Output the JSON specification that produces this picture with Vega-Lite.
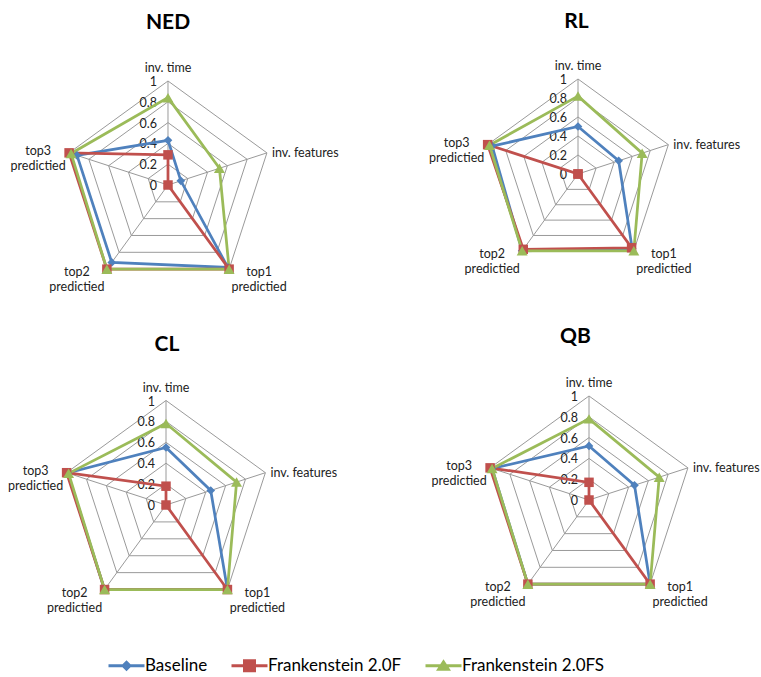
{
  "$schema": "https://vega.github.io/schema/vega-lite/v6.json",
  "background": "white",
  "padding": {"top": 11, "left": 0, "right": 0, "bottom": 0},
  "config": {"view": {"stroke": null}, "font": "Lato"},
  "datasets": {
    "grid": [
      {"level": 0.2, "axis": ["inv. time", "inv. features", "top1 predictied", "top2 predictied", "top3 predictied"]},
      {"level": 0.4, "axis": ["inv. time", "inv. features", "top1 predictied", "top2 predictied", "top3 predictied"]},
      {"level": 0.6, "axis": ["inv. time", "inv. features", "top1 predictied", "top2 predictied", "top3 predictied"]},
      {"level": 0.8, "axis": ["inv. time", "inv. features", "top1 predictied", "top2 predictied", "top3 predictied"]},
      {"level": 1.0, "axis": ["inv. time", "inv. features", "top1 predictied", "top2 predictied", "top3 predictied"]}
    ],
    "axes": [
      {"axis": "inv. time", "label": "inv. time"},
      {"axis": "inv. features", "label": "inv. features"},
      {"axis": "top1 predictied", "label": "top1\npredictied"},
      {"axis": "top2 predictied", "label": "top2\npredictied"},
      {"axis": "top3 predictied", "label": "top3\npredictied"}
    ],
    "ticks": [{"tick": 0}, {"tick": 0.2}, {"tick": 0.4}, {"tick": 0.6}, {"tick": 0.8}, {"tick": 1}],
    "scores": [
      {"panel": "NED", "method": "Baseline", "axis": "inv. time", "value": 0.43},
      {"panel": "NED", "method": "Baseline", "axis": "inv. features", "value": 0.13},
      {"panel": "NED", "method": "Baseline", "axis": "top1 predictied", "value": 0.98},
      {"panel": "NED", "method": "Baseline", "axis": "top2 predictied", "value": 0.92},
      {"panel": "NED", "method": "Baseline", "axis": "top3 predictied", "value": 0.92},
      {"panel": "NED", "method": "Frankenstein 2.0F", "axis": "inv. time", "value": 0.29},
      {"panel": "NED", "method": "Frankenstein 2.0F", "axis": "inv. features", "value": 0},
      {"panel": "NED", "method": "Frankenstein 2.0F", "axis": "top1 predictied", "value": 1},
      {"panel": "NED", "method": "Frankenstein 2.0F", "axis": "top2 predictied", "value": 1},
      {"panel": "NED", "method": "Frankenstein 2.0F", "axis": "top3 predictied", "value": 1},
      {"panel": "NED", "method": "Frankenstein 2.0FS", "axis": "inv. time", "value": 0.84},
      {"panel": "NED", "method": "Frankenstein 2.0FS", "axis": "inv. features", "value": 0.52},
      {"panel": "NED", "method": "Frankenstein 2.0FS", "axis": "top1 predictied", "value": 1},
      {"panel": "NED", "method": "Frankenstein 2.0FS", "axis": "top2 predictied", "value": 1},
      {"panel": "NED", "method": "Frankenstein 2.0FS", "axis": "top3 predictied", "value": 0.98},
      {"panel": "RL", "method": "Baseline", "axis": "inv. time", "value": 0.5},
      {"panel": "RL", "method": "Baseline", "axis": "inv. features", "value": 0.45},
      {"panel": "RL", "method": "Baseline", "axis": "top1 predictied", "value": 0.97},
      {"panel": "RL", "method": "Baseline", "axis": "top2 predictied", "value": 1},
      {"panel": "RL", "method": "Baseline", "axis": "top3 predictied", "value": 0.95},
      {"panel": "RL", "method": "Frankenstein 2.0F", "axis": "inv. time", "value": 0},
      {"panel": "RL", "method": "Frankenstein 2.0F", "axis": "inv. features", "value": 0},
      {"panel": "RL", "method": "Frankenstein 2.0F", "axis": "top1 predictied", "value": 0.96},
      {"panel": "RL", "method": "Frankenstein 2.0F", "axis": "top2 predictied", "value": 0.98},
      {"panel": "RL", "method": "Frankenstein 2.0F", "axis": "top3 predictied", "value": 1},
      {"panel": "RL", "method": "Frankenstein 2.0FS", "axis": "inv. time", "value": 0.82},
      {"panel": "RL", "method": "Frankenstein 2.0FS", "axis": "inv. features", "value": 0.71},
      {"panel": "RL", "method": "Frankenstein 2.0FS", "axis": "top1 predictied", "value": 1},
      {"panel": "RL", "method": "Frankenstein 2.0FS", "axis": "top2 predictied", "value": 1},
      {"panel": "RL", "method": "Frankenstein 2.0FS", "axis": "top3 predictied", "value": 0.98},
      {"panel": "CL", "method": "Baseline", "axis": "inv. time", "value": 0.55},
      {"panel": "CL", "method": "Baseline", "axis": "inv. features", "value": 0.45},
      {"panel": "CL", "method": "Baseline", "axis": "top1 predictied", "value": 1},
      {"panel": "CL", "method": "Baseline", "axis": "top2 predictied", "value": 1},
      {"panel": "CL", "method": "Baseline", "axis": "top3 predictied", "value": 0.99},
      {"panel": "CL", "method": "Frankenstein 2.0F", "axis": "inv. time", "value": 0.18},
      {"panel": "CL", "method": "Frankenstein 2.0F", "axis": "inv. features", "value": 0},
      {"panel": "CL", "method": "Frankenstein 2.0F", "axis": "top1 predictied", "value": 1},
      {"panel": "CL", "method": "Frankenstein 2.0F", "axis": "top2 predictied", "value": 1},
      {"panel": "CL", "method": "Frankenstein 2.0F", "axis": "top3 predictied", "value": 1},
      {"panel": "CL", "method": "Frankenstein 2.0FS", "axis": "inv. time", "value": 0.78},
      {"panel": "CL", "method": "Frankenstein 2.0FS", "axis": "inv. features", "value": 0.71},
      {"panel": "CL", "method": "Frankenstein 2.0FS", "axis": "top1 predictied", "value": 1},
      {"panel": "CL", "method": "Frankenstein 2.0FS", "axis": "top2 predictied", "value": 1},
      {"panel": "CL", "method": "Frankenstein 2.0FS", "axis": "top3 predictied", "value": 0.98},
      {"panel": "QB", "method": "Baseline", "axis": "inv. time", "value": 0.52},
      {"panel": "QB", "method": "Baseline", "axis": "inv. features", "value": 0.46},
      {"panel": "QB", "method": "Baseline", "axis": "top1 predictied", "value": 1},
      {"panel": "QB", "method": "Baseline", "axis": "top2 predictied", "value": 1},
      {"panel": "QB", "method": "Baseline", "axis": "top3 predictied", "value": 0.98},
      {"panel": "QB", "method": "Frankenstein 2.0F", "axis": "inv. time", "value": 0.17},
      {"panel": "QB", "method": "Frankenstein 2.0F", "axis": "inv. features", "value": 0},
      {"panel": "QB", "method": "Frankenstein 2.0F", "axis": "top1 predictied", "value": 1},
      {"panel": "QB", "method": "Frankenstein 2.0F", "axis": "top2 predictied", "value": 1},
      {"panel": "QB", "method": "Frankenstein 2.0F", "axis": "top3 predictied", "value": 1},
      {"panel": "QB", "method": "Frankenstein 2.0FS", "axis": "inv. time", "value": 0.78},
      {"panel": "QB", "method": "Frankenstein 2.0FS", "axis": "inv. features", "value": 0.71},
      {"panel": "QB", "method": "Frankenstein 2.0FS", "axis": "top1 predictied", "value": 1},
      {"panel": "QB", "method": "Frankenstein 2.0FS", "axis": "top2 predictied", "value": 1},
      {"panel": "QB", "method": "Frankenstein 2.0FS", "axis": "top3 predictied", "value": 0.98}
    ]
  },
  "bounds": "flush",
  "columns": 2,
  "spacing": {"row": 40, "column": 0},
  "resolve": {
    "scale": {"x": "independent", "y": "independent", "color": "shared", "fill": "shared", "shape": "shared"},
    "legend": {"color": "shared", "fill": "shared", "shape": "shared"}
  },
  "concat": [
    {
      "width": 380, "height": 280,
      "title": {"text": "NED", "font": "Lato", "fontSize": 21, "fontWeight": "bold", "color": "#000", "dx": -22, "offset": 8},
      "encoding": {
        "x": {"field": "x", "type": "quantitative", "scale": {"domain": [-1.6154, 2.0385], "nice": false, "zero": false}, "axis": null},
        "y": {"field": "y", "type": "quantitative", "scale": {"domain": [-1.3077, 1.3846], "nice": false, "zero": false}, "axis": null}
      },
      "layer": [
        {"data": {"name": "grid"},
         "transform": [{"flatten": ["axis"]}, {"calculate": "indexof(['inv. time','inv. features','top1 predictied','top2 predictied','top3 predictied'], datum.axis)", "as": "k"}, {"calculate": "datum.level*sin(datum.k*2*PI/5)", "as": "x"}, {"calculate": "datum.level*cos(datum.k*2*PI/5)", "as": "y"}],
         "mark": {"type": "line", "interpolate": "linear-closed", "stroke": "#9a9a9a", "strokeWidth": 1},
         "encoding": {"detail": {"field": "level", "type": "nominal"}, "order": {"field": "k", "type": "quantitative"}}},
        {"data": {"name": "axes"},
         "transform": [{"calculate": "indexof(['inv. time','inv. features','top1 predictied','top2 predictied','top3 predictied'], datum.axis)", "as": "k"}, {"calculate": "sin(datum.k*2*PI/5)", "as": "x"}, {"calculate": "cos(datum.k*2*PI/5)", "as": "y"}],
         "mark": {"type": "rule", "stroke": "#9a9a9a", "strokeWidth": 1},
         "encoding": {"x2": {"datum": 0}, "y2": {"datum": 0}}},
        {"data": {"name": "axes"},
         "transform": [{"calculate": "indexof(['inv. time','inv. features','top1 predictied','top2 predictied','top3 predictied'], datum.axis)", "as": "k"}, {"calculate": "sin(datum.k*2*PI/5)", "as": "x"}, {"calculate": "cos(datum.k*2*PI/5)", "as": "y"}],
         "mark": {"type": "text", "font": "Lato", "fontSize": 12.5, "color": "#222", "lineBreak": "\n", "lineHeight": 15, "baseline": "middle",
                  "align": {"expr": "datum.k === 1 ? 'left' : 'center'"},
                  "dx": {"expr": "[0, 5, 30, -30, -31][datum.k]"},
                  "dy": {"expr": "[-13, 0, 3, 3, -2][datum.k]"}},
         "encoding": {"text": {"field": "label", "type": "nominal"}}},
        {"data": {"name": "ticks"},
         "transform": [{"calculate": "0", "as": "x"}, {"calculate": "datum.tick", "as": "y"}],
         "mark": {"type": "text", "font": "Lato", "fontSize": 12.5, "color": "#222", "align": "right", "baseline": "middle", "dx": -11, "dy": 1},
         "encoding": {"text": {"field": "tick", "type": "quantitative", "format": ".1~f"}}},
        {"data": {"name": "scores"},
         "transform": [{"filter": "datum.panel === 'NED'"}, {"calculate": "indexof(['inv. time','inv. features','top1 predictied','top2 predictied','top3 predictied'], datum.axis)", "as": "k"}, {"calculate": "datum.value*sin(datum.k*2*PI/5)", "as": "x"}, {"calculate": "datum.value*cos(datum.k*2*PI/5)", "as": "y"}],
         "mark": {"type": "line", "interpolate": "linear-closed", "strokeWidth": 2.75},
         "encoding": {"color": {"field": "method", "type": "nominal", "scale": {"domain": ["Baseline", "Frankenstein 2.0F", "Frankenstein 2.0FS"], "range": ["#4F81BD", "#C0504D", "#9BBB59"]},
             "legend": {"orient": "none", "legendX": 105, "legendY": 616, "direction": "horizontal", "title": null, "labelFont": "Lato", "labelFontSize": 17, "labelColor": "#000", "symbolSize": 100, "symbolStrokeWidth": 0, "symbolOffset": 13, "labelOffset": 10, "columnPadding": 20}},
           "order": {"field": "k", "type": "quantitative"}}},
        {"data": {"name": "scores"},
         "transform": [{"filter": "datum.panel === 'NED'"}, {"calculate": "indexof(['inv. time','inv. features','top1 predictied','top2 predictied','top3 predictied'], datum.axis)", "as": "k"}, {"calculate": "datum.value*sin(datum.k*2*PI/5)", "as": "x"}, {"calculate": "datum.value*cos(datum.k*2*PI/5)", "as": "y"}],
         "mark": {"type": "point", "filled": true, "opacity": 1,
                  "shape": {"expr": "datum.method === 'Baseline' ? 'diamond' : datum.method === 'Frankenstein 2.0F' ? 'square' : 'triangle-up'"},
                  "size": {"expr": "datum.method === 'Baseline' ? 75 : datum.method === 'Frankenstein 2.0F' ? 90 : 120"}},
         "encoding": {"fill": {"field": "method", "type": "nominal", "scale": {"domain": ["Baseline", "Frankenstein 2.0F", "Frankenstein 2.0FS"], "range": ["#4F81BD", "#C0504D", "#9BBB59"]}, "legend": null}}},
        {"data": {"name": "scores"},
         "transform": [{"filter": "datum.panel === 'NED'"}, {"calculate": "indexof(['inv. time','inv. features','top1 predictied','top2 predictied','top3 predictied'], datum.axis)", "as": "k"}, {"calculate": "datum.value*sin(datum.k*2*PI/5)", "as": "x"}, {"calculate": "datum.value*cos(datum.k*2*PI/5)", "as": "y"}],
         "mark": {"type": "point", "filled": true, "size": 0, "opacity": 1},
         "encoding": {
           "color": {"field": "method", "type": "nominal",
             "legend": {"orient": "none", "legendX": 105, "legendY": 616, "direction": "horizontal", "title": null, "labelFont": "Lato", "labelFontSize": 17, "labelColor": "#000", "symbolSize": 100, "symbolStrokeWidth": 0, "symbolOffset": 13, "labelOffset": 10, "columnPadding": 20}},
           "shape": {"field": "method", "type": "nominal",
             "scale": {"domain": ["Baseline", "Frankenstein 2.0F", "Frankenstein 2.0FS"], "range": ["M-3.6,-0.3H3.6V0.3H-3.6Z M0,-1.1L1.1,0L0,1.1L-1.1,0Z", "M-3.6,-0.3H3.6V0.3H-3.6Z M-1.3,-1.3H1.3V1.3H-1.3Z", "M-3.6,-0.3H3.6V0.3H-3.6Z M0,-1.3L1.5,1.0H-1.5Z"]},
             "legend": {"orient": "none", "legendX": 105, "legendY": 616, "direction": "horizontal", "title": null, "labelFont": "Lato", "labelFontSize": 17, "labelColor": "#000", "symbolSize": 100, "symbolStrokeWidth": 0, "symbolOffset": 13, "labelOffset": 10, "columnPadding": 20}}
         }}
      ]
    },
    {
      "width": 381, "height": 280,
      "title": {"text": "RL", "font": "Lato", "fontSize": 21, "fontWeight": "bold", "color": "#000", "dx": 6, "offset": 9},
      "encoding": {
        "x": {"field": "x", "type": "quantitative", "scale": {"domain": [-2.0842, 1.9263], "nice": false, "zero": false}, "axis": null},
        "y": {"field": "y", "type": "quantitative", "scale": {"domain": [-1.5474, 1.4], "nice": false, "zero": false}, "axis": null}
      },
      "layer": [
        {"data": {"name": "grid"},
         "transform": [{"flatten": ["axis"]}, {"calculate": "indexof(['inv. time','inv. features','top1 predictied','top2 predictied','top3 predictied'], datum.axis)", "as": "k"}, {"calculate": "datum.level*sin(datum.k*2*PI/5)", "as": "x"}, {"calculate": "datum.level*cos(datum.k*2*PI/5)", "as": "y"}],
         "mark": {"type": "line", "interpolate": "linear-closed", "stroke": "#9a9a9a", "strokeWidth": 1},
         "encoding": {"detail": {"field": "level", "type": "nominal"}, "order": {"field": "k", "type": "quantitative"}}},
        {"data": {"name": "axes"},
         "transform": [{"calculate": "indexof(['inv. time','inv. features','top1 predictied','top2 predictied','top3 predictied'], datum.axis)", "as": "k"}, {"calculate": "sin(datum.k*2*PI/5)", "as": "x"}, {"calculate": "cos(datum.k*2*PI/5)", "as": "y"}],
         "mark": {"type": "rule", "stroke": "#9a9a9a", "strokeWidth": 1},
         "encoding": {"x2": {"datum": 0}, "y2": {"datum": 0}}},
        {"data": {"name": "axes"},
         "transform": [{"calculate": "indexof(['inv. time','inv. features','top1 predictied','top2 predictied','top3 predictied'], datum.axis)", "as": "k"}, {"calculate": "sin(datum.k*2*PI/5)", "as": "x"}, {"calculate": "cos(datum.k*2*PI/5)", "as": "y"}],
         "mark": {"type": "text", "font": "Lato", "fontSize": 12.5, "color": "#222", "lineBreak": "\n", "lineHeight": 15, "baseline": "middle",
                  "align": {"expr": "datum.k === 1 ? 'left' : 'center'"},
                  "dx": {"expr": "[0, 5, 30, -30, -31][datum.k]"},
                  "dy": {"expr": "[-13, 0, 3, 3, -2][datum.k]"}},
         "encoding": {"text": {"field": "label", "type": "nominal"}}},
        {"data": {"name": "ticks"},
         "transform": [{"calculate": "0", "as": "x"}, {"calculate": "datum.tick", "as": "y"}],
         "mark": {"type": "text", "font": "Lato", "fontSize": 12.5, "color": "#222", "align": "right", "baseline": "middle", "dx": -11, "dy": 1},
         "encoding": {"text": {"field": "tick", "type": "quantitative", "format": ".1~f"}}},
        {"data": {"name": "scores"},
         "transform": [{"filter": "datum.panel === 'RL'"}, {"calculate": "indexof(['inv. time','inv. features','top1 predictied','top2 predictied','top3 predictied'], datum.axis)", "as": "k"}, {"calculate": "datum.value*sin(datum.k*2*PI/5)", "as": "x"}, {"calculate": "datum.value*cos(datum.k*2*PI/5)", "as": "y"}],
         "mark": {"type": "line", "interpolate": "linear-closed", "strokeWidth": 2.75},
         "encoding": {"color": {"field": "method", "type": "nominal"}, "order": {"field": "k", "type": "quantitative"}}},
        {"data": {"name": "scores"},
         "transform": [{"filter": "datum.panel === 'RL'"}, {"calculate": "indexof(['inv. time','inv. features','top1 predictied','top2 predictied','top3 predictied'], datum.axis)", "as": "k"}, {"calculate": "datum.value*sin(datum.k*2*PI/5)", "as": "x"}, {"calculate": "datum.value*cos(datum.k*2*PI/5)", "as": "y"}],
         "mark": {"type": "point", "filled": true, "opacity": 1,
                  "shape": {"expr": "datum.method === 'Baseline' ? 'diamond' : datum.method === 'Frankenstein 2.0F' ? 'square' : 'triangle-up'"},
                  "size": {"expr": "datum.method === 'Baseline' ? 75 : datum.method === 'Frankenstein 2.0F' ? 90 : 120"}},
         "encoding": {"fill": {"field": "method", "type": "nominal", "legend": null}}}
      ]
    },
    {
      "width": 380, "height": 260,
      "title": {"text": "CL", "font": "Lato", "fontSize": 21, "fontWeight": "bold", "color": "#000", "dx": -23, "offset": 6},
      "encoding": {
        "x": {"field": "x", "type": "quantitative", "scale": {"domain": [-1.5885, 2.0478], "nice": false, "zero": false}, "axis": null},
        "y": {"field": "y", "type": "quantitative", "scale": {"domain": [-1.11, 1.378], "nice": false, "zero": false}, "axis": null}
      },
      "layer": [
        {"data": {"name": "grid"},
         "transform": [{"flatten": ["axis"]}, {"calculate": "indexof(['inv. time','inv. features','top1 predictied','top2 predictied','top3 predictied'], datum.axis)", "as": "k"}, {"calculate": "datum.level*sin(datum.k*2*PI/5)", "as": "x"}, {"calculate": "datum.level*cos(datum.k*2*PI/5)", "as": "y"}],
         "mark": {"type": "line", "interpolate": "linear-closed", "stroke": "#9a9a9a", "strokeWidth": 1},
         "encoding": {"detail": {"field": "level", "type": "nominal"}, "order": {"field": "k", "type": "quantitative"}}},
        {"data": {"name": "axes"},
         "transform": [{"calculate": "indexof(['inv. time','inv. features','top1 predictied','top2 predictied','top3 predictied'], datum.axis)", "as": "k"}, {"calculate": "sin(datum.k*2*PI/5)", "as": "x"}, {"calculate": "cos(datum.k*2*PI/5)", "as": "y"}],
         "mark": {"type": "rule", "stroke": "#9a9a9a", "strokeWidth": 1},
         "encoding": {"x2": {"datum": 0}, "y2": {"datum": 0}}},
        {"data": {"name": "axes"},
         "transform": [{"calculate": "indexof(['inv. time','inv. features','top1 predictied','top2 predictied','top3 predictied'], datum.axis)", "as": "k"}, {"calculate": "sin(datum.k*2*PI/5)", "as": "x"}, {"calculate": "cos(datum.k*2*PI/5)", "as": "y"}],
         "mark": {"type": "text", "font": "Lato", "fontSize": 12.5, "color": "#222", "lineBreak": "\n", "lineHeight": 15, "baseline": "middle",
                  "align": {"expr": "datum.k === 1 ? 'left' : 'center'"},
                  "dx": {"expr": "[0, 5, 30, -30, -31][datum.k]"},
                  "dy": {"expr": "[-13, 0, 3, 3, -2][datum.k]"}},
         "encoding": {"text": {"field": "label", "type": "nominal"}}},
        {"data": {"name": "ticks"},
         "transform": [{"calculate": "0", "as": "x"}, {"calculate": "datum.tick", "as": "y"}],
         "mark": {"type": "text", "font": "Lato", "fontSize": 12.5, "color": "#222", "align": "right", "baseline": "middle", "dx": -11, "dy": 1},
         "encoding": {"text": {"field": "tick", "type": "quantitative", "format": ".1~f"}}},
        {"data": {"name": "scores"},
         "transform": [{"filter": "datum.panel === 'CL'"}, {"calculate": "indexof(['inv. time','inv. features','top1 predictied','top2 predictied','top3 predictied'], datum.axis)", "as": "k"}, {"calculate": "datum.value*sin(datum.k*2*PI/5)", "as": "x"}, {"calculate": "datum.value*cos(datum.k*2*PI/5)", "as": "y"}],
         "mark": {"type": "line", "interpolate": "linear-closed", "strokeWidth": 2.75},
         "encoding": {"color": {"field": "method", "type": "nominal"}, "order": {"field": "k", "type": "quantitative"}}},
        {"data": {"name": "scores"},
         "transform": [{"filter": "datum.panel === 'CL'"}, {"calculate": "indexof(['inv. time','inv. features','top1 predictied','top2 predictied','top3 predictied'], datum.axis)", "as": "k"}, {"calculate": "datum.value*sin(datum.k*2*PI/5)", "as": "x"}, {"calculate": "datum.value*cos(datum.k*2*PI/5)", "as": "y"}],
         "mark": {"type": "point", "filled": true, "opacity": 1,
                  "shape": {"expr": "datum.method === 'Baseline' ? 'diamond' : datum.method === 'Frankenstein 2.0F' ? 'square' : 'triangle-up'"},
                  "size": {"expr": "datum.method === 'Baseline' ? 75 : datum.method === 'Frankenstein 2.0F' ? 90 : 120"}},
         "encoding": {"fill": {"field": "method", "type": "nominal", "legend": null}}}
      ]
    },
    {
      "width": 381, "height": 260,
      "title": {"text": "QB", "font": "Lato", "fontSize": 21, "fontWeight": "bold", "color": "#000", "dx": 5, "offset": 14},
      "encoding": {
        "x": {"field": "x", "type": "quantitative", "scale": {"domain": [-2.0096, 1.6538], "nice": false, "zero": false}, "axis": null},
        "y": {"field": "y", "type": "quantitative", "scale": {"domain": [-1.1635, 1.3365], "nice": false, "zero": false}, "axis": null}
      },
      "layer": [
        {"data": {"name": "grid"},
         "transform": [{"flatten": ["axis"]}, {"calculate": "indexof(['inv. time','inv. features','top1 predictied','top2 predictied','top3 predictied'], datum.axis)", "as": "k"}, {"calculate": "datum.level*sin(datum.k*2*PI/5)", "as": "x"}, {"calculate": "datum.level*cos(datum.k*2*PI/5)", "as": "y"}],
         "mark": {"type": "line", "interpolate": "linear-closed", "stroke": "#9a9a9a", "strokeWidth": 1},
         "encoding": {"detail": {"field": "level", "type": "nominal"}, "order": {"field": "k", "type": "quantitative"}}},
        {"data": {"name": "axes"},
         "transform": [{"calculate": "indexof(['inv. time','inv. features','top1 predictied','top2 predictied','top3 predictied'], datum.axis)", "as": "k"}, {"calculate": "sin(datum.k*2*PI/5)", "as": "x"}, {"calculate": "cos(datum.k*2*PI/5)", "as": "y"}],
         "mark": {"type": "rule", "stroke": "#9a9a9a", "strokeWidth": 1},
         "encoding": {"x2": {"datum": 0}, "y2": {"datum": 0}}},
        {"data": {"name": "axes"},
         "transform": [{"calculate": "indexof(['inv. time','inv. features','top1 predictied','top2 predictied','top3 predictied'], datum.axis)", "as": "k"}, {"calculate": "sin(datum.k*2*PI/5)", "as": "x"}, {"calculate": "cos(datum.k*2*PI/5)", "as": "y"}],
         "mark": {"type": "text", "font": "Lato", "fontSize": 12.5, "color": "#222", "lineBreak": "\n", "lineHeight": 15, "baseline": "middle",
                  "align": {"expr": "datum.k === 1 ? 'left' : 'center'"},
                  "dx": {"expr": "[0, 5, 30, -30, -31][datum.k]"},
                  "dy": {"expr": "[-13, 0, 3, 3, -2][datum.k]"}},
         "encoding": {"text": {"field": "label", "type": "nominal"}}},
        {"data": {"name": "ticks"},
         "transform": [{"calculate": "0", "as": "x"}, {"calculate": "datum.tick", "as": "y"}],
         "mark": {"type": "text", "font": "Lato", "fontSize": 12.5, "color": "#222", "align": "right", "baseline": "middle", "dx": -11, "dy": 1},
         "encoding": {"text": {"field": "tick", "type": "quantitative", "format": ".1~f"}}},
        {"data": {"name": "scores"},
         "transform": [{"filter": "datum.panel === 'QB'"}, {"calculate": "indexof(['inv. time','inv. features','top1 predictied','top2 predictied','top3 predictied'], datum.axis)", "as": "k"}, {"calculate": "datum.value*sin(datum.k*2*PI/5)", "as": "x"}, {"calculate": "datum.value*cos(datum.k*2*PI/5)", "as": "y"}],
         "mark": {"type": "line", "interpolate": "linear-closed", "strokeWidth": 2.75},
         "encoding": {"color": {"field": "method", "type": "nominal"}, "order": {"field": "k", "type": "quantitative"}}},
        {"data": {"name": "scores"},
         "transform": [{"filter": "datum.panel === 'QB'"}, {"calculate": "indexof(['inv. time','inv. features','top1 predictied','top2 predictied','top3 predictied'], datum.axis)", "as": "k"}, {"calculate": "datum.value*sin(datum.k*2*PI/5)", "as": "x"}, {"calculate": "datum.value*cos(datum.k*2*PI/5)", "as": "y"}],
         "mark": {"type": "point", "filled": true, "opacity": 1,
                  "shape": {"expr": "datum.method === 'Baseline' ? 'diamond' : datum.method === 'Frankenstein 2.0F' ? 'square' : 'triangle-up'"},
                  "size": {"expr": "datum.method === 'Baseline' ? 75 : datum.method === 'Frankenstein 2.0F' ? 90 : 120"}},
         "encoding": {"fill": {"field": "method", "type": "nominal", "legend": null}}}
      ]
    }
  ]
}
